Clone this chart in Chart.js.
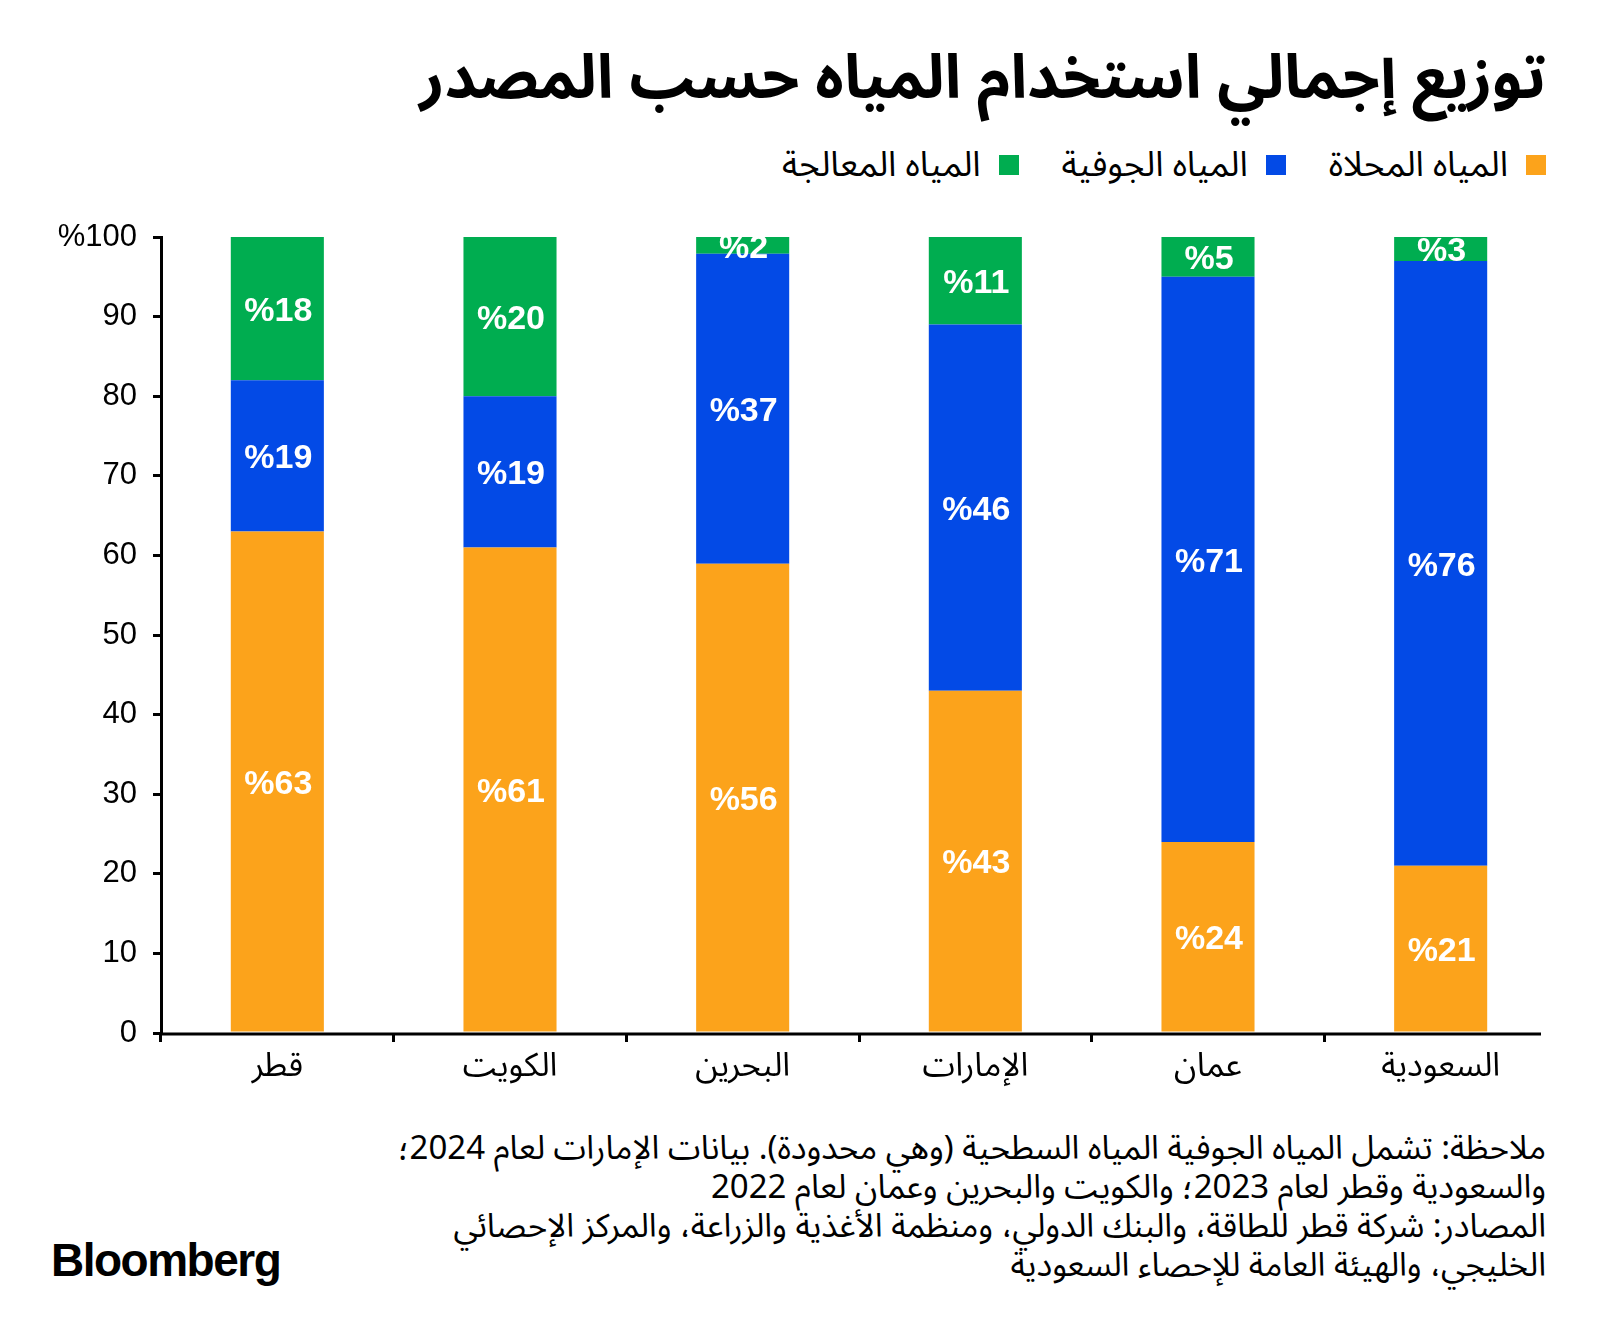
<!DOCTYPE html>
<html lang="ar">
<head>
<meta charset="utf-8">
<script src="https://cdn.jsdelivr.net/npm/chart.js@4"></script>
<style>
  html, body { margin: 0; padding: 0; background: #fff; }
  body { width: 1600px; height: 1344px; position: relative; overflow: hidden;
         font-family: "Noto Sans Arabic", "DejaVu Sans", sans-serif; color: #000; }
  #title { position: absolute; right: 54px; top: 14px; direction: rtl;
           font-size: 61px; font-weight: 700; white-space: nowrap; }
  #legend { position: absolute; right: 54px; top: 128px; direction: rtl; display: flex;
            gap: 43px; font-size: 35px; white-space: nowrap; }
  #legend span.item { display: flex; align-items: center; gap: 18px; }
  #legend i { display: inline-block; width: 20px; height: 20px; }
  #chartBox { position: absolute; left: 0; top: 200px; width: 1600px; height: 900px; }
  #notes { position: absolute; right: 54px; top: 1129px; direction: rtl; text-align: right;
           font-size: 33px; line-height: 39px; white-space: nowrap; }
  #logo { position: absolute; left: 51px; top: 1233px; font-family: "Liberation Sans", Arial, sans-serif;
          font-weight: 700; font-size: 46px; letter-spacing: -1.5px; }
</style>
</head>
<body>
<div id="title">توزيع إجمالي استخدام المياه حسب المصدر</div>
<div id="legend"></div>
<div id="chartBox"><canvas id="myChart" width="1600" height="900"></canvas></div>
<div id="notes">
ملاحظة: تشمل المياه الجوفية المياه السطحية (وهي محدودة). بيانات الإمارات لعام 2024؛<br>
والسعودية وقطر لعام 2023؛ والكويت والبحرين وعمان لعام 2022<br>
المصادر: شركة قطر للطاقة، والبنك الدولي، ومنظمة الأغذية والزراعة، والمركز الإحصائي<br>
الخليجي، والهيئة العامة للإحصاء السعودية
</div>
<div id="logo">Bloomberg</div>
<script>
// categories, left to right
var countries = ['قطر', 'الكويت', 'البحرين', 'الإمارات', 'عمان', 'السعودية'];
// shares in % as labelled on the chart
var desalinated = [63, 61, 56, 43, 24, 21];
var groundwater = [19, 19, 37, 46, 71, 76];
var treated = [18, 20, 2, 11, 5, 3];
var seriesNames = ['المياه المحلاة', 'المياه الجوفية', 'المياه المعالجة'];
var seriesColors = ['#fca31b', '#034ae6', '#00ad50'];
var yTicks = [0, 10, 20, 30, 40, 50, 60, 70, 80, 90, 100];

// legend
var legendEl = document.getElementById('legend');
seriesNames.forEach(function (name, i) {
    var item = document.createElement('span');
    item.className = 'item';
    item.innerHTML = '<i style="background:' + seriesColors[i] + '"></i>' + name;
    legendEl.appendChild(item);
});

// bars are stacked to 100% of each country total (Bahrain sums to 95)
var raw = [desalinated, groundwater, treated];
var totals = countries.map(function (c, j) {
    return raw[0][j] + raw[1][j] + raw[2][j];
});
var datasets = raw.map(function (vals, i) {
    return {
        label: seriesNames[i],
        data: vals.map(function (v, j) { return v / totals[j] * 100; }),
        rawValues: vals,
        backgroundColor: seriesColors[i],
        barPercentage: 0.4,
        categoryPercentage: 1.0
    };
});

var fontFamily = '"Liberation Sans", Arial, sans-serif';
var arabicFont = '"Noto Sans Arabic", "DejaVu Sans", sans-serif';

var labelPlugin = {
    id: 'segmentLabels',
    afterDatasetsDraw: function (chart) {
        var ctx = chart.ctx;
        ctx.save();
        ctx.fillStyle = '#fff';
        ctx.font = 'bold 34px ' + fontFamily;
        ctx.textAlign = 'center';
        ctx.textBaseline = 'middle';
        chart.data.datasets.forEach(function (ds, i) {
            chart.getDatasetMeta(i).data.forEach(function (bar, j) {
                var mid = (bar.y + bar.base) / 2;
                ctx.fillText('%' + ds.rawValues[j], bar.x + 1, mid + 3);
            });
        });
        ctx.restore();
    }
};

// x axis line stops a little short of the last category edge, as in the original
var axisLinePlugin = {
    id: 'axisLine',
    afterDraw: function (chart) {
        var a = chart.chartArea;
        var ctx = chart.ctx;
        ctx.save();
        ctx.strokeStyle = '#000';
        ctx.lineWidth = 3;
        ctx.beginPath();
        ctx.moveTo(a.left - 1, a.bottom + 1);
        ctx.lineTo(a.right - 16, a.bottom + 1);
        ctx.stroke();
        ctx.restore();
    }
};

if (typeof Chart === 'undefined') {
    console.error('Chart.js is not loaded');
} else {
    var ctx = document.getElementById('myChart').getContext('2d');
    var myChart = new Chart(ctx, {
        type: 'bar',
        data: { labels: countries, datasets: datasets },
        options: {
            responsive: false,
            animation: false,
            layout: { padding: { top: 37, right: 43, left: 0, bottom: 0 } },
            plugins: { legend: { display: false }, tooltip: { enabled: false } },
            scales: {
                x: {
                    stacked: true,
                    afterFit: function (s) { s.height = 67; },
                    border: { display: false },
                    grid: {
                        drawOnChartArea: false, drawTicks: true, tickLength: 9, lineWidth: 3, offset: true,
                        // no tick mark at the far right end
                        color: function (c) { return c.index === undefined ? 'rgba(0,0,0,0)' : '#000'; }
                    },
                    ticks: { color: '#000', padding: 9, font: { family: arabicFont, size: 33 } }
                },
                y: {
                    stacked: true,
                    min: 0,
                    max: 100,
                    afterFit: function (s) { s.width = 161; },
                    afterBuildTicks: function (s) { s.ticks = yTicks.map(function (v) { return { value: v }; }); },
                    border: { color: '#000', width: 3 },
                    grid: { drawOnChartArea: false, drawTicks: true, tickLength: 8, color: '#000', lineWidth: 3 },
                    ticks: {
                        color: '#000',
                        padding: 16,
                        font: { family: fontFamily, size: 31 },
                        callback: function (v) { return v === 100 ? '%100' : String(v); }
                    }
                }
            }
        },
        plugins: [labelPlugin, axisLinePlugin]
    });
}
</script>
</body>
</html>
